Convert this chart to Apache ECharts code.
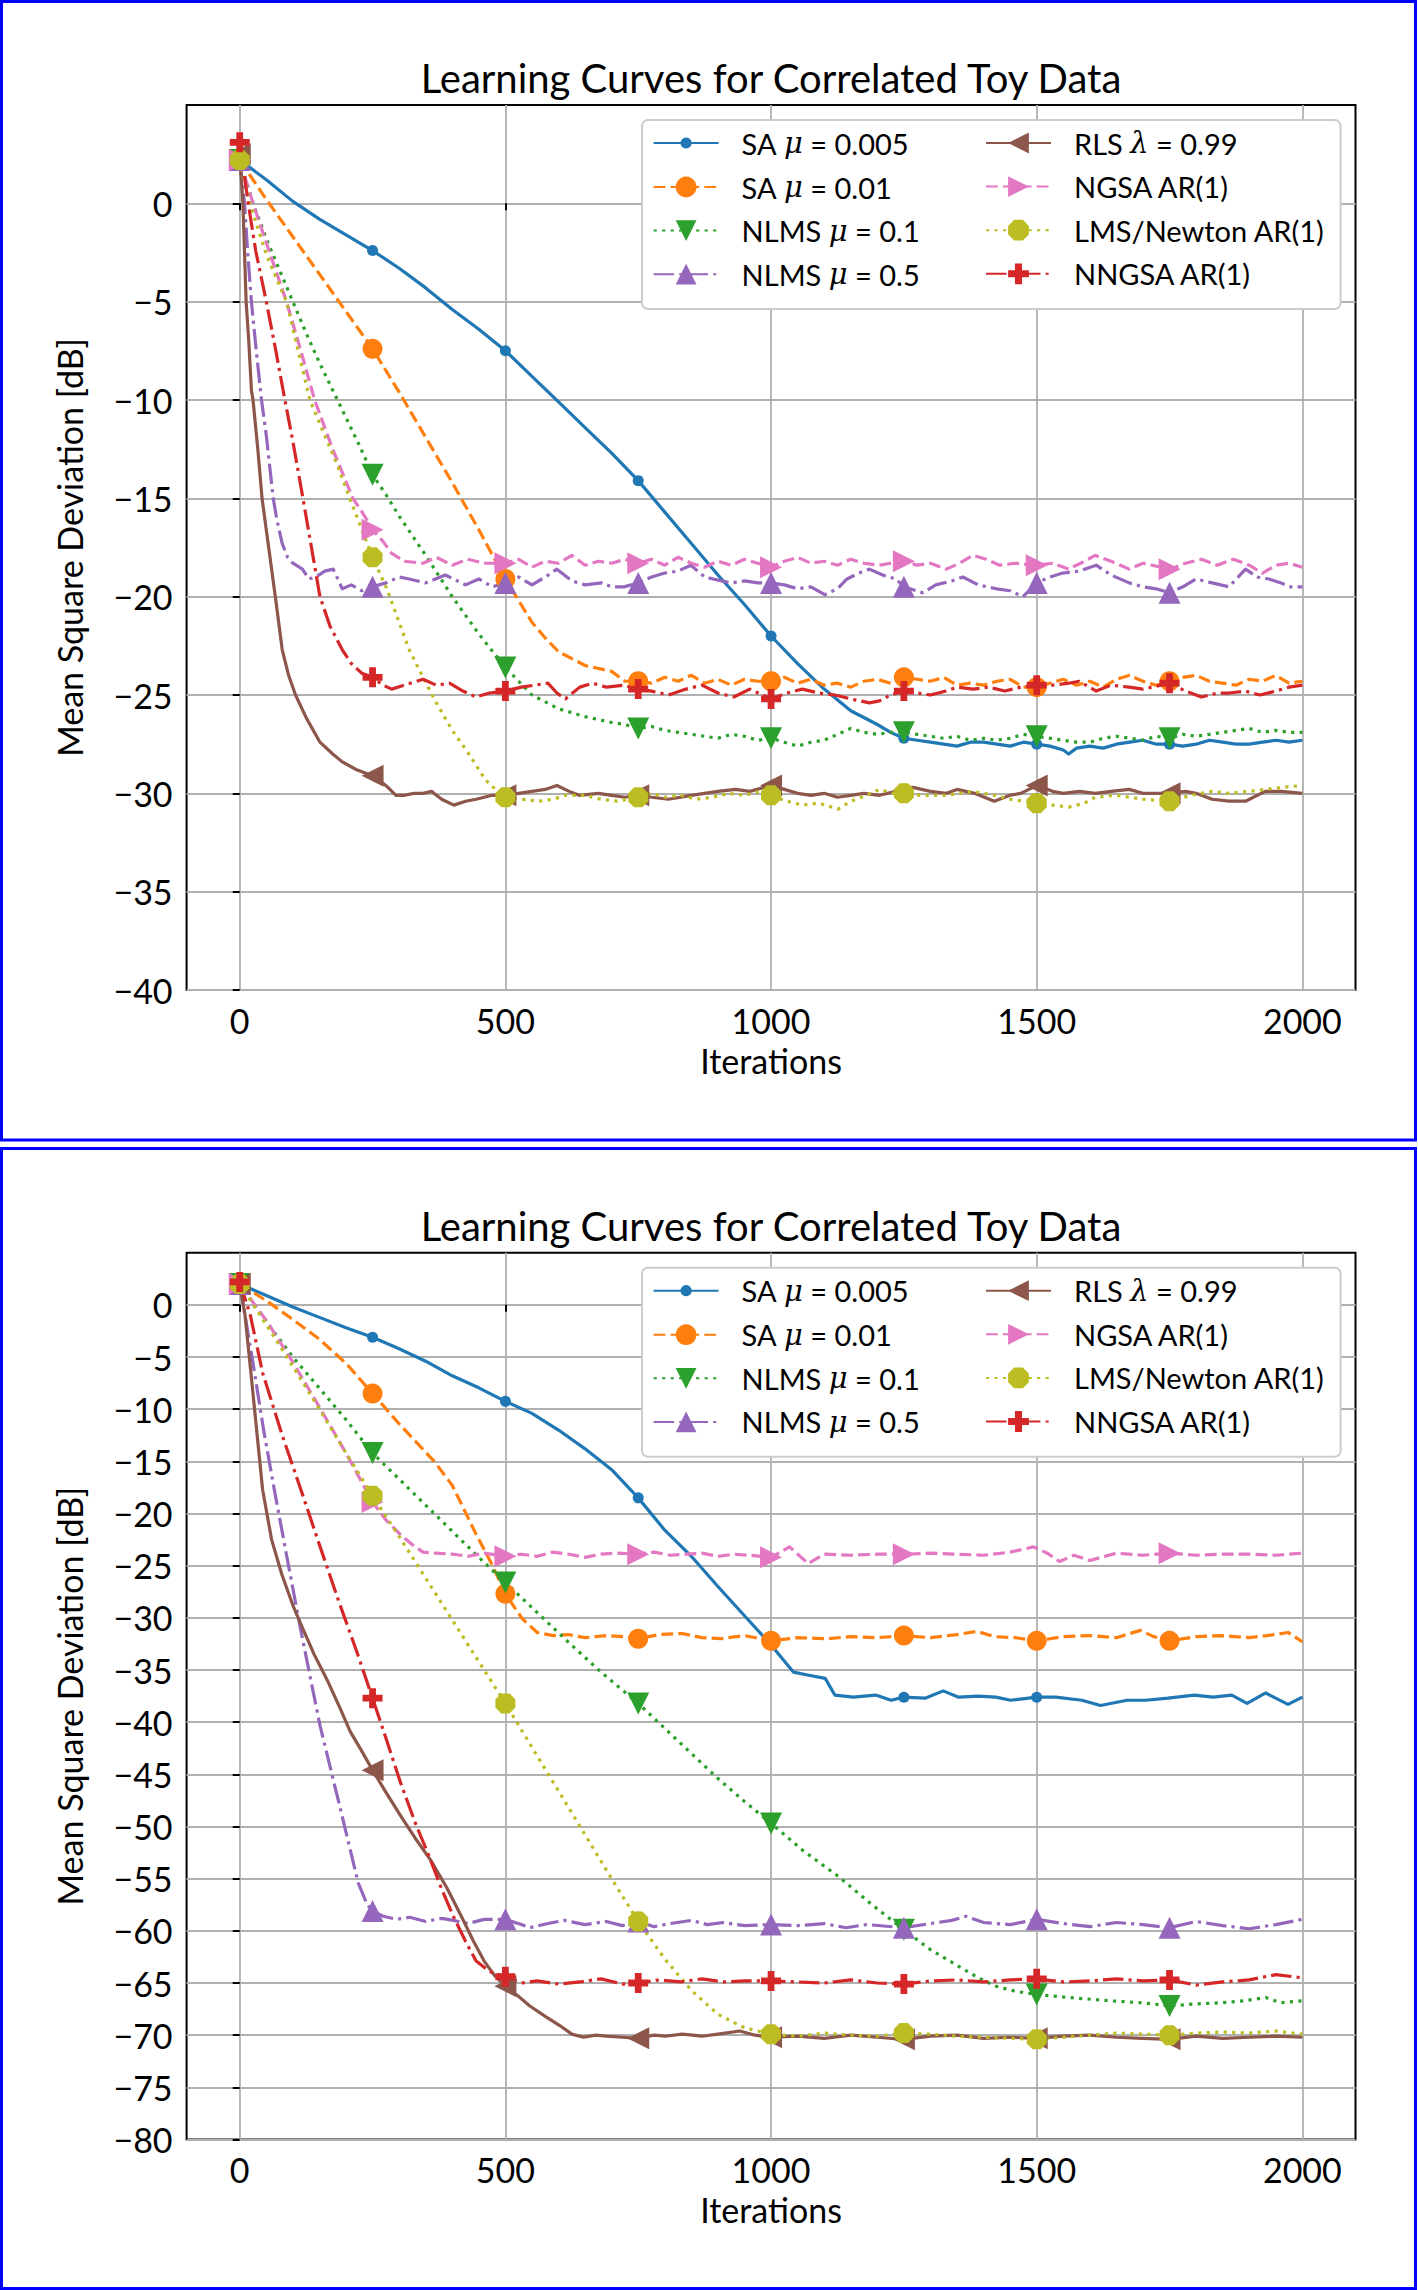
<!DOCTYPE html>
<html>
<head>
<meta charset="utf-8">
<script src="https://cdn.jsdelivr.net/npm/echarts@6/dist/echarts.min.js"></script>
<style>
html,body{margin:0;padding:0;background:#fff;}
#chart{width:1418px;height:2290px;}
</style>
</head>
<body>
<div id="chart"></div>
<script>
// ---------------- DATA ----------------
const SERIES_NAMES = ['SA μ = 0.005','SA μ = 0.01','NLMS μ = 0.1','NLMS μ = 0.5','RLS λ = 0.99','NGSA AR(1)','LMS/Newton AR(1)','NNGSA AR(1)'];
const TITLE = 'Learning Curves for Correlated Toy Data';
const X_LABEL = 'Iterations';
const Y_LABEL = 'Mean Square Deviation [dB]';
const X_TICKS = [0, 500, 1000, 1500, 2000];
const Y_TICKS_TOP = [-40, -35, -30, -25, -20, -15, -10, -5, 0];
const Y_TICKS_BOTTOM = [-80, -75, -70, -65, -60, -55, -50, -45, -40, -35, -30, -25, -20, -15, -10, -5, 0];

// ---- top panel: [iteration, dB] ----
const TOP_SA_005 = [[0,2.2],[50,1.2],[100,0.1],[150,-0.8],[200,-1.6],[250,-2.4],[300,-3.3],[350,-4.3],[400,-5.4],[450,-6.4],[500,-7.5],[550,-8.8],[600,-10.1],[650,-11.4],[700,-12.7],[750,-14.1],[800,-15.7],[850,-17.3],[900,-18.9],[950,-20.4],[1000,-22.0],[1050,-23.4],[1100,-24.7],[1150,-25.8],[1200,-26.5],[1225,-26.9],[1250,-27.2],[1275,-27.3],[1300,-27.4],[1325,-27.5],[1350,-27.6],[1375,-27.4],[1400,-27.4],[1425,-27.5],[1450,-27.6],[1475,-27.4],[1500,-27.5],[1525,-27.6],[1550,-27.8],[1560,-28.0],[1575,-27.7],[1600,-27.6],[1625,-27.7],[1650,-27.5],[1675,-27.4],[1700,-27.3],[1725,-27.5],[1750,-27.5],[1775,-27.6],[1800,-27.5],[1825,-27.3],[1850,-27.4],[1875,-27.5],[1900,-27.5],[1925,-27.4],[1950,-27.3],[1975,-27.4],[2000,-27.3]];
const TOP_SA_01 = [[0,2.2],[25,1.2],[50,0.2],[100,-1.7],[150,-3.6],[200,-5.5],[250,-7.4],[300,-9.6],[350,-11.9],[400,-14.2],[450,-16.6],[500,-19.1],[550,-21.3],[575,-22.1],[600,-22.8],[650,-23.5],[700,-23.8],[725,-24.3],[750,-24.3],[775,-24.4],[800,-24.1],[825,-24.3],[850,-24.0],[875,-24.4],[900,-24.2],[925,-24.5],[950,-24.2],[975,-24.3],[1000,-24.3],[1025,-24.1],[1050,-24.4],[1075,-24.2],[1100,-24.5],[1125,-24.4],[1150,-24.6],[1175,-24.3],[1200,-24.2],[1225,-24.4],[1250,-24.1],[1275,-24.2],[1300,-24.3],[1325,-24.1],[1350,-24.5],[1375,-24.4],[1400,-24.5],[1425,-24.3],[1450,-24.2],[1475,-24.6],[1500,-24.6],[1525,-24.4],[1550,-24.2],[1575,-24.5],[1600,-24.3],[1625,-24.6],[1650,-24.2],[1675,-24.0],[1700,-24.3],[1725,-24.5],[1750,-24.3],[1775,-24.1],[1800,-24.0],[1825,-24.3],[1850,-24.4],[1875,-24.5],[1900,-24.2],[1925,-24.3],[1950,-24.0],[1975,-24.4],[2000,-24.3]];
const TOP_NLMS_01 = [[0,2.2],[25,0],[50,-1.8],[75,-3.4],[100,-5.0],[125,-6.6],[150,-8.1],[175,-9.5],[200,-10.9],[225,-12.3],[250,-13.8],[275,-14.8],[300,-15.9],[350,-17.9],[400,-20.0],[450,-21.9],[500,-23.6],[550,-25.0],[600,-25.7],[650,-26.1],[700,-26.4],[725,-26.5],[750,-26.7],[775,-26.6],[800,-26.8],[825,-26.9],[850,-27.0],[875,-27.1],[900,-27.2],[925,-27.0],[950,-27.1],[975,-27.3],[1000,-27.2],[1025,-27.4],[1050,-27.6],[1075,-27.4],[1100,-27.3],[1125,-27.0],[1150,-26.7],[1175,-26.9],[1200,-27.0],[1225,-26.9],[1250,-26.9],[1275,-27.0],[1300,-27.1],[1325,-27.2],[1350,-27.1],[1375,-27.3],[1400,-27.2],[1425,-27.3],[1450,-27.2],[1475,-27.0],[1500,-27.1],[1525,-27.2],[1550,-27.3],[1575,-27.4],[1600,-27.4],[1625,-27.2],[1650,-27.1],[1675,-27.2],[1700,-27.3],[1725,-27.1],[1750,-27.2],[1775,-27.0],[1800,-27.1],[1825,-27.0],[1850,-26.9],[1875,-26.8],[1900,-26.7],[1925,-26.9],[1950,-26.8],[1975,-26.9],[2000,-26.9]];
const TOP_NLMS_05 = [[0,2.2],[5,1.0],[9,0],[15,-2.5],[22,-5],[30,-7.2],[41,-10],[50,-11.8],[63,-15],[70,-16.1],[80,-17.3],[90,-18.0],[100,-18.3],[118,-18.6],[130,-19.1],[143,-19.0],[160,-18.7],[176,-18.6],[193,-19.6],[210,-19.4],[230,-19.7],[250,-19.5],[275,-19.3],[300,-19.0],[319,-19.1],[350,-19.3],[387,-18.9],[425,-19.4],[450,-19.1],[475,-19.5],[500,-19.3],[525,-19.0],[550,-19.4],[575,-19.0],[597,-18.6],[625,-19.2],[650,-19.4],[681,-19.3],[700,-19.5],[723,-19.5],[750,-19.3],[775,-19.0],[800,-18.8],[825,-18.7],[849,-18.4],[875,-19.0],[891,-19.1],[925,-19.3],[950,-19.2],[975,-19.3],[1000,-19.3],[1025,-19.4],[1050,-19.6],[1075,-19.5],[1101,-19.9],[1125,-19.6],[1143,-19.1],[1165,-18.8],[1185,-18.6],[1210,-18.9],[1235,-19.1],[1250,-19.5],[1286,-19.8],[1310,-19.4],[1340,-19.2],[1361,-19.0],[1390,-19.4],[1424,-19.6],[1450,-19.7],[1474,-20.0],[1500,-19.3],[1525,-19.0],[1549,-18.8],[1580,-18.7],[1612,-18.4],[1640,-18.9],[1674,-19.3],[1700,-19.5],[1725,-19.6],[1750,-19.8],[1775,-19.5],[1800,-19.1],[1830,-19.3],[1862,-19.5],[1893,-18.6],[1915,-19.0],[1937,-19.1],[1960,-19.3],[1975,-19.5],[2000,-19.5]];
const TOP_RLS = [[0,2.5],[6,0],[12,-5],[17,-7],[22,-9.5],[25,-10],[34,-12.5],[42,-15],[55,-17.6],[67,-20],[80,-22.7],[92,-24],[105,-25.0],[126,-26.2],[151,-27.4],[175,-28.0],[193,-28.4],[220,-28.8],[250,-29.1],[275,-29.6],[294,-30.1],[310,-30.1],[328,-30.0],[345,-30.0],[361,-29.9],[380,-30.3],[403,-30.6],[425,-30.4],[445,-30.3],[475,-30.1],[500,-30.1],[525,-30.0],[550,-29.9],[575,-29.8],[597,-29.6],[620,-29.9],[639,-30.1],[675,-30.0],[700,-30.1],[725,-30.2],[750,-30.1],[775,-30.2],[807,-30.3],[850,-30.1],[875,-30.0],[900,-29.9],[933,-29.8],[960,-29.9],[1000,-29.6],[1025,-29.8],[1050,-30.0],[1075,-30.1],[1100,-30.0],[1125,-30.2],[1150,-30.1],[1175,-30.0],[1204,-30.1],[1235,-29.9],[1267,-29.7],[1300,-29.9],[1330,-30.0],[1350,-29.8],[1383,-30.0],[1420,-30.4],[1450,-30.1],[1470,-30.0],[1500,-29.6],[1530,-29.9],[1550,-30.0],[1580,-29.9],[1610,-30.0],[1640,-29.9],[1674,-29.8],[1700,-30.0],[1750,-30.0],[1780,-29.9],[1800,-30.0],[1830,-30.3],[1862,-30.4],[1893,-30.4],[1930,-29.9],[1960,-29.9],[2000,-30.0]];
const TOP_NGSA = [[0,2.2],[25,0],[50,-2.0],[88,-5],[115,-7.5],[141,-10],[175,-12.5],[213,-15],[235,-15.9],[250,-16.6],[270,-17.2],[286,-17.8],[310,-18.2],[345,-18.3],[370,-18.0],[400,-18.4],[429,-18.1],[460,-18.3],[500,-18.3],[525,-18.1],[550,-18.5],[575,-18.2],[600,-18.3],[625,-17.9],[650,-18.4],[675,-18.2],[700,-18.3],[725,-18.1],[750,-18.3],[775,-18.1],[800,-18.4],[825,-18.0],[850,-18.3],[875,-18.5],[900,-18.2],[925,-18.4],[950,-18.1],[975,-18.3],[1000,-18.5],[1025,-18.2],[1050,-18.0],[1075,-18.3],[1100,-18.2],[1125,-18.4],[1150,-18.1],[1175,-18.3],[1204,-18.4],[1225,-18.3],[1250,-18.2],[1275,-18.4],[1300,-18.3],[1330,-18.6],[1355,-18.3],[1380,-17.9],[1405,-18.1],[1430,-18.4],[1460,-18.3],[1500,-18.4],[1530,-18.3],[1560,-18.6],[1590,-18.2],[1610,-17.9],[1640,-18.2],[1674,-18.6],[1700,-18.3],[1750,-18.6],[1780,-18.3],[1810,-18.1],[1840,-18.4],[1870,-18.1],[1900,-18.4],[1925,-18.8],[1950,-18.4],[1975,-18.3],[2000,-18.5]];
const TOP_LMSN = [[0,2.2],[19,0],[50,-2.6],[88,-5],[110,-7.5],[132,-10],[160,-11.8],[185,-13.4],[207,-15],[230,-16.6],[250,-18.0],[277,-19.6],[300,-21.3],[319,-22.7],[345,-24.1],[370,-25.4],[400,-26.8],[429,-27.9],[462,-29.3],[485,-29.9],[500,-30.2],[530,-30.3],[563,-30.4],[590,-30.3],[613,-30.1],[650,-30.1],[680,-30.3],[710,-30.4],[750,-30.2],[775,-30.0],[800,-30.2],[830,-30.1],[860,-30.3],[890,-30.2],[920,-30.0],[950,-30.1],[980,-29.9],[1000,-30.1],[1030,-30.4],[1059,-30.6],[1090,-30.5],[1126,-30.8],[1150,-30.4],[1180,-30.1],[1204,-29.8],[1230,-30.0],[1250,-30.0],[1280,-30.1],[1330,-30.1],[1380,-29.9],[1420,-30.1],[1450,-30.3],[1500,-30.5],[1530,-30.6],[1560,-30.7],[1590,-30.5],[1610,-30.2],[1650,-30.1],[1700,-30.3],[1750,-30.4],[1790,-30.1],[1830,-29.9],[1860,-30.0],[1900,-29.9],[1930,-29.8],[1960,-29.7],[2000,-29.6]];
const TOP_NNGSA = [[0,3.1],[16,0],[30,-2.4],[50,-5],[68,-7.5],[85,-10],[100,-12.1],[119,-15],[135,-17.5],[151,-20],[170,-21.5],[193,-22.7],[210,-23.4],[230,-23.9],[250,-24.1],[270,-24.5],[286,-24.7],[310,-24.5],[345,-24.2],[370,-24.5],[395,-24.4],[420,-24.8],[445,-25.1],[470,-24.9],[500,-24.8],[530,-24.6],[555,-24.5],[580,-24.4],[597,-24.9],[613,-25.2],[640,-24.6],[664,-24.4],[690,-24.6],[723,-24.5],[750,-24.7],[775,-24.8],[807,-25.0],[840,-24.7],[870,-24.5],[900,-24.9],[930,-25.1],[960,-24.7],[1000,-25.2],[1030,-24.9],[1059,-24.7],[1090,-24.9],[1120,-25.0],[1150,-25.2],[1185,-25.4],[1204,-25.3],[1225,-25.0],[1250,-24.8],[1275,-24.9],[1300,-25.0],[1329,-24.8],[1350,-24.6],[1380,-24.7],[1410,-24.6],[1440,-24.8],[1470,-24.6],[1500,-24.5],[1530,-24.5],[1560,-24.4],[1580,-24.3],[1612,-24.8],[1640,-24.5],[1674,-24.6],[1700,-24.7],[1750,-24.4],[1780,-24.8],[1810,-25.1],[1840,-24.9],[1862,-24.9],[1893,-24.8],[1920,-25.0],[1950,-24.8],[1975,-24.6],[2000,-24.5]];

// ---- bottom panel: [iteration, dB] ----
const BOT_SA_005 = [[0,2.0],[50,0.9],[100,-0.2],[150,-1.2],[200,-2.2],[250,-3.1],[300,-4.2],[350,-5.4],[400,-6.8],[450,-7.95],[500,-9.25],[550,-10.4],[600,-12.0],[650,-13.8],[700,-15.8],[750,-18.5],[800,-21.6],[850,-24.1],[900,-27.0],[950,-29.8],[1000,-32.6],[1021,-33.9],[1042,-35.2],[1071,-35.5],[1102,-35.8],[1120,-37.4],[1155,-37.6],[1197,-37.4],[1226,-37.9],[1250,-37.6],[1290,-37.7],[1324,-37.0],[1353,-37.6],[1390,-37.5],[1423,-37.6],[1451,-37.9],[1500,-37.6],[1536,-37.6],[1585,-37.9],[1620,-38.4],[1670,-37.9],[1705,-37.9],[1747,-37.7],[1797,-37.4],[1832,-37.6],[1867,-37.4],[1896,-38.2],[1931,-37.2],[1973,-38.3],[2000,-37.6]];
const BOT_SA_01 = [[0,2.0],[50,0.4],[100,-1.4],[150,-3.3],[200,-5.6],[250,-8.5],[300,-11.4],[366,-15.0],[400,-17.3],[445,-22.0],[475,-24.9],[500,-27.7],[532,-30.1],[560,-31.4],[590,-31.7],[618,-31.6],[650,-31.9],[690,-31.7],[720,-31.8],[750,-32.0],[790,-31.6],[833,-31.5],[870,-31.9],[905,-32.0],[950,-31.7],[1000,-32.2],[1050,-31.9],[1106,-32.0],[1150,-31.8],[1200,-31.9],[1250,-31.7],[1300,-31.9],[1350,-31.6],[1388,-31.3],[1420,-31.8],[1460,-31.9],[1500,-32.2],[1550,-31.8],[1600,-31.7],[1650,-31.9],[1695,-31.2],[1720,-31.8],[1750,-32.2],[1800,-31.8],[1846,-31.7],[1900,-31.9],[1950,-31.6],[1973,-31.4],[2000,-32.3]];
const BOT_NLMS_01 = [[0,2.0],[50,-1.6],[100,-5.0],[150,-8.0],[200,-11.0],[250,-14.2],[300,-16.7],[374,-20.4],[450,-24.2],[500,-26.6],[560,-29.5],[618,-32.3],[680,-35.2],[750,-38.2],[800,-40.6],[850,-43.0],[900,-45.4],[950,-47.6],[1000,-49.7],[1060,-52.3],[1127,-54.8],[1190,-57.5],[1250,-59.9],[1300,-61.8],[1353,-63.4],[1390,-64.5],[1423,-65.3],[1460,-65.8],[1500,-66.1],[1564,-66.4],[1635,-66.7],[1700,-66.9],[1750,-67.2],[1800,-67.0],[1846,-66.9],[1890,-66.7],[1931,-66.4],[1959,-66.9],[2000,-66.7]];
const BOT_NLMS_05 = [[0,2.0],[10,-1.0],[25,-5.6],[45,-12],[65,-17.7],[90,-24.5],[115,-31.2],[151,-40.3],[187,-47.8],[223,-55.4],[240,-57.5],[250,-58.1],[270,-58.6],[295,-58.9],[320,-58.7],[350,-59.1],[380,-58.8],[402,-59.0],[430,-59.3],[460,-58.9],[500,-58.9],[530,-59.4],[546,-59.7],[580,-59.3],[610,-59.0],[650,-59.4],[690,-59.1],[720,-59.5],[750,-59.1],[780,-59.6],[810,-59.3],[850,-59.0],[880,-59.4],[910,-59.2],[950,-59.5],[1000,-59.4],[1050,-59.5],[1100,-59.3],[1141,-59.7],[1180,-59.4],[1250,-59.7],[1300,-59.3],[1340,-59.0],[1367,-58.6],[1400,-59.2],[1450,-59.4],[1500,-58.9],[1550,-59.3],[1600,-59.6],[1650,-59.2],[1700,-59.4],[1750,-59.7],[1800,-59.1],[1850,-59.5],[1900,-59.8],[1950,-59.4],[2000,-58.9]];
const BOT_RLS = [[0,2.0],[10,-1.0],[22,-7.0],[43,-17.7],[60,-22.5],[79,-25.8],[100,-28.8],[115,-30.6],[140,-33.5],[165,-36.0],[190,-38.8],[208,-40.9],[230,-42.8],[250,-44.6],[275,-46.7],[302,-48.9],[330,-51.1],[359,-53.2],[390,-55.9],[417,-58.6],[440,-61.0],[460,-62.9],[480,-64.3],[500,-65.3],[525,-66.3],[546,-67.2],[575,-68.2],[603,-69.1],[625,-69.9],[647,-70.2],[670,-70.0],[690,-70.1],[720,-70.2],[750,-70.3],[780,-70.0],[800,-70.1],[833,-69.9],[870,-70.1],[900,-69.9],[941,-69.6],[970,-70.0],[1000,-70.2],[1050,-70.1],[1100,-70.3],[1150,-70.0],[1200,-70.2],[1250,-70.4],[1300,-70.1],[1350,-70.0],[1400,-70.3],[1450,-70.2],[1500,-70.3],[1550,-70.1],[1600,-70.0],[1650,-70.2],[1700,-70.3],[1750,-70.4],[1800,-70.1],[1850,-70.3],[1900,-70.2],[1950,-70.1],[2000,-70.2]];
const BOT_NGSA = [[0,2.0],[50,-1.5],[100,-5.5],[150,-9.8],[200,-14.2],[250,-18.9],[275,-20.6],[302,-22.0],[325,-23.0],[345,-23.7],[370,-23.8],[402,-23.9],[430,-24.1],[460,-23.8],[500,-24.1],[530,-23.9],[560,-24.1],[590,-23.7],[620,-23.9],[650,-24.2],[680,-23.9],[710,-23.8],[750,-23.9],[780,-23.7],[810,-24.0],[840,-23.9],[870,-23.8],[900,-24.1],[930,-23.9],[960,-24.0],[1000,-24.2],[1035,-23.2],[1070,-24.8],[1100,-23.9],[1150,-24.0],[1200,-23.9],[1250,-23.9],[1300,-23.8],[1350,-23.9],[1400,-24.0],[1450,-23.7],[1494,-23.2],[1520,-23.8],[1543,-24.6],[1570,-24.0],[1600,-24.5],[1650,-23.8],[1700,-24.0],[1750,-23.8],[1800,-24.0],[1850,-23.9],[1900,-23.9],[1950,-24.0],[2000,-23.8]];
const BOT_LMSN = [[0,2.0],[50,-1.9],[100,-5.9],[150,-10.0],[200,-14.2],[250,-18.3],[300,-22.2],[350,-26.2],[400,-30.2],[450,-34.2],[500,-38.2],[550,-42.4],[600,-46.6],[650,-50.8],[700,-55.0],[750,-59.1],[800,-62.7],[850,-65.7],[900,-68.0],[950,-69.3],[1000,-69.9],[1050,-70.1],[1100,-69.8],[1150,-70.0],[1200,-70.1],[1250,-69.8],[1300,-69.9],[1350,-70.1],[1400,-70.2],[1450,-70.3],[1500,-70.4],[1550,-70.2],[1600,-70.0],[1650,-69.8],[1700,-69.9],[1750,-70.0],[1800,-69.8],[1850,-69.7],[1900,-69.8],[1950,-69.6],[2000,-69.9]];
const BOT_NNGSA = [[0,2.2],[20,-1.0],[43,-6.5],[80,-12.5],[115,-17.7],[150,-23.0],[187,-28.5],[220,-33.2],[250,-37.7],[275,-41.5],[302,-45.7],[330,-49.6],[359,-53.2],[380,-56.0],[402,-58.6],[425,-61.0],[445,-62.9],[470,-63.9],[500,-64.4],[530,-65.0],[560,-64.8],[600,-65.1],[640,-64.9],[680,-64.6],[720,-65.1],[750,-65.0],[790,-64.7],[830,-64.9],[870,-64.6],[910,-64.9],[950,-64.8],[1000,-64.8],[1050,-64.9],[1100,-65.0],[1150,-64.7],[1200,-65.0],[1250,-65.1],[1300,-64.8],[1350,-64.7],[1400,-64.9],[1450,-64.7],[1500,-64.6],[1550,-64.9],[1600,-64.8],[1650,-64.6],[1700,-64.8],[1750,-64.7],[1800,-65.2],[1850,-64.9],[1900,-64.7],[1950,-64.2],[2000,-64.5]];

const TOP_DATA = [TOP_SA_005, TOP_SA_01, TOP_NLMS_01, TOP_NLMS_05, TOP_RLS, TOP_NGSA, TOP_LMSN, TOP_NNGSA];
const BOT_DATA = [BOT_SA_005, BOT_SA_01, BOT_NLMS_01, BOT_NLMS_05, BOT_RLS, BOT_NGSA, BOT_LMSN, BOT_NNGSA];

// ---------------- STYLE ----------------
const FONT = 'Lato, "DejaVu Sans", sans-serif';
const COLORS = ['#1f77b4','#ff7f0e','#2ca02c','#9467bd','#8c564b','#e377c2','#bcbd22','#d62728'];
const LW = 3.2;
const DASHED = [11.8, 5.1], DOTTED = [3.2, 5.3], DASHDOT = [20.5, 5.1, 3.2, 5.1];
const LINE_TYPES = ['solid', DASHED, DOTTED, DASHDOT, 'solid', DASHED, DOTTED, DASHDOT];
const OCTAGON = 'path://M2.93,0L7.07,0L10,2.93L10,7.07L7.07,10L2.93,10L0,7.07L0,2.93Z';
const PLUS = 'path://M3.3,0L6.7,0L6.7,3.3L10,3.3L10,6.7L6.7,6.7L6.7,10L3.3,10L3.3,6.7L0,6.7L0,3.3L3.3,3.3Z';
const SYMBOLS = ['circle','circle','triangle','triangle','triangle','triangle',OCTAGON,PLUS];
const ROTATE = [0, 0, 180, 0, 90, -90, 0, 0];
const SIZES = [11, 20, 22, 22, 22, 22, 20, 20];
const MARK_EVERY = 250;

const PANEL_OFF = 1147.7;
const GRID_LEFT = 186.6, GRID_W = 1168.9;
const GRID_TOP = [105, 105 + PANEL_OFF];
const GRID_H = [885, 886.8];

const LEGEND_LABELS = {
  'SA μ = 0.005': 'SA {m|μ} = 0.005',
  'SA μ = 0.01': 'SA {m|μ} = 0.01',
  'NLMS μ = 0.1': 'NLMS {m|μ} = 0.1',
  'NLMS μ = 0.5': 'NLMS {m|μ} = 0.5',
  'RLS λ = 0.99': 'RLS {m|λ} = 0.99',
  'NGSA AR(1)': 'NGSA AR(1)',
  'LMS/Newton AR(1)': 'LMS/Newton AR(1)',
  'NNGSA AR(1)': 'NNGSA AR(1)'
};

function minusFmt(v) { return v < 0 ? '\u2212' + Math.abs(v) : String(v); }

const chart = echarts.init(document.getElementById('chart'), null, {renderer: 'svg', width: 1418, height: 2290});

const grids = [], xAxes = [], yAxes = [], series = [], legends = [], graphics = [];
const yMins = [-40, -80];
const yTicks = [Y_TICKS_TOP, Y_TICKS_BOTTOM];
const datas = [TOP_DATA, BOT_DATA];

for (let p = 0; p < 2; p++) {
  const off = p * PANEL_OFF;
  grids.push({left: GRID_LEFT, top: GRID_TOP[p], width: GRID_W, height: GRID_H[p], show: true,
    borderColor: '#000', borderWidth: 2, backgroundColor: 'transparent', outerBoundsMode: 'none', containLabel: false});
  xAxes.push({type: 'value', gridIndex: p, min: -100, max: 2100,
    name: X_LABEL, nameLocation: 'middle', nameGap: 53,
    nameTextStyle: {fontSize: 34, fontFamily: FONT, color: '#000'},
    axisLine: {show: false},
    axisTick: {show: true, length: 7, lineStyle: {color: '#000', width: 2}, customValues: X_TICKS},
    axisLabel: {show: true, customValues: X_TICKS, fontSize: 34, fontFamily: FONT, color: '#000', margin: 13, formatter: minusFmt},
    splitLine: {show: true, lineStyle: {color: '#b0b0b0', width: 1.8}}
  });
  yAxes.push({type: 'value', gridIndex: p, min: yMins[p], max: 5, interval: 5,
    name: Y_LABEL, nameLocation: 'middle', nameGap: 100, nameRotate: 90,
    nameTextStyle: {fontSize: 34, fontFamily: FONT, color: '#000'},
    axisLine: {show: false},
    axisTick: {show: true, length: 7, lineStyle: {color: '#000', width: 2}, customValues: yTicks[p]},
    axisLabel: {show: true, customValues: yTicks[p], fontSize: 34, fontFamily: FONT, color: '#000', margin: 14, formatter: minusFmt},
    splitLine: {show: true, lineStyle: {color: '#b0b0b0', width: 1.8}}
  });
  for (let i = 0; i < 8; i++) {
    const size = SIZES[i];
    series.push({
      type: 'line', name: SERIES_NAMES[i], xAxisIndex: p, yAxisIndex: p,
      data: datas[p][i],
      symbol: SYMBOLS[i], symbolRotate: ROTATE[i],
      symbolSize: function (v) { return (v[0] % MARK_EVERY === 0 && v[0] < 2000) ? size : 0; },
      showSymbol: true, showAllSymbol: true, smooth: false, clip: true,
      lineStyle: {color: COLORS[i], width: LW, type: LINE_TYPES[i], cap: 'butt', join: 'round'},
      itemStyle: {color: COLORS[i], borderWidth: 0},
      emphasis: {disabled: true}, silent: true, animation: false, z: 2
    });
  }
  // legend box
  graphics.push({type: 'rect', z: 3, shape: {x: 642, y: 120 + off, width: 698.6, height: 189, r: 6},
    style: {fill: '#ffffff', stroke: '#cccccc', lineWidth: 2}});
  // title
  graphics.push({type: 'text', z: 5, x: 771, y: 78 + off,
    style: {text: TITLE, fontSize: 40, fontFamily: FONT, fill: '#000', textAlign: 'center', textVerticalAlign: 'middle', verticalAlign: 'middle'}});
  // blue frame
  graphics.push({type: 'rect', z: 10, shape: {x: 1.5, y: p === 0 ? 1.5 : 1148.5, width: 1414, height: p === 0 ? 1138.5 : 1140},
    style: {fill: 'none', stroke: '#0000ff', lineWidth: 3}});

  const legendBase = {orient: 'vertical', padding: 0, itemWidth: 65, itemGap: 14.6, selectedMode: false, z: 5,
    textStyle: {color: '#000', fontSize: 29, fontFamily: FONT, lineHeight: 26, padding: [0, 0, 0, 18],
      rich: {m: {fontStyle: 'italic', fontFamily: '"DejaVu Serif", serif', fontSize: 29, lineHeight: 26, color: '#000'}}},
    formatter: function (n) { return LEGEND_LABELS[n]; }};
  legends.push(Object.assign({}, legendBase, {data: [SERIES_NAMES[0]], left: 652.6, top: 143 + off - 14.5, itemHeight: 14}));
  legends.push(Object.assign({}, legendBase, {data: SERIES_NAMES.slice(1, 4), left: 652.6, top: 187 + off - 14.5, itemHeight: 26}));
  legends.push(Object.assign({}, legendBase, {data: SERIES_NAMES.slice(4, 8), left: 985, top: 143 + off - 14.5, itemHeight: 26}));
}

chart.setOption({
  backgroundColor: '#ffffff',
  animation: false,
  grid: grids, xAxis: xAxes, yAxis: yAxes, series: series, legend: legends,
  graphic: {elements: graphics}
});
</script>
</body>
</html>
